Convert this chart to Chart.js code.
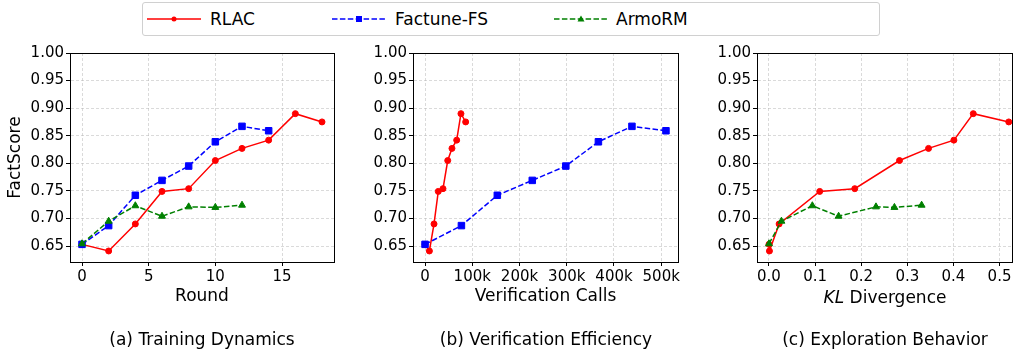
<!DOCTYPE html>
<html lang="en">
<head>
    <meta charset="UTF-8">
    <title>FactScore panels</title>
    <script src="https://cdn.jsdelivr.net/npm/chart.js"></script>
    <style>
        body {
            margin: 0;
            width: 1013px;
            height: 354px;
            overflow: hidden;
            background: #fff;
            font-family: "DejaVu Sans", sans-serif;
            position: relative;
        }
        .panel {
            position: absolute;
            top: 0;
            height: 354px;
        }
        .legend {
            position: absolute;
            left: 142px;
            top: 2px;
            width: 736px;
            height: 32px;
            border: 1px solid #d0d0d0;
            border-radius: 3px;
        }
        .legend .item {
            position: absolute;
            top: 0;
            height: 32px;
            line-height: 32px;
            font-size: 17px;
        }
        .legend svg {
            position: absolute;
            top: 10px;
        }
        .legend span {
            position: absolute;
            white-space: nowrap;
        }
        .label {
            position: absolute;
            font-size: 17px;
            white-space: nowrap;
            transform: translate(-50%, -50%);
        }
    </style>
</head>
<body>
    <!-- Legend -->
    <div class="legend">
        <div class="item" style="left:4px">
            <svg width="54" height="12"><line x1="0" y1="6" x2="54" y2="6" stroke="#ff0000" stroke-width="1.5"/><circle cx="27" cy="6" r="2.5" fill="#ff0000"/></svg>
            <span style="left:63px">RLAC</span>
        </div>
        <div class="item" style="left:189px">
            <svg width="54" height="12"><line x1="0" y1="6" x2="54" y2="6" stroke="#0000ff" stroke-width="1.5" stroke-dasharray="5.5 2.4"/><rect x="24" y="3" width="6" height="6" fill="#0000ff"/></svg>
            <span style="left:63px">Factune-FS</span>
        </div>
        <div class="item" style="left:411px">
            <svg width="54" height="12"><line x1="0" y1="6" x2="54" y2="6" stroke="#008000" stroke-width="1.5" stroke-dasharray="5.5 2.4"/><polygon points="27,2.5 30.5,8.5 23.5,8.5" fill="#008000"/></svg>
            <span style="left:62px">ArmoRM</span>
        </div>
    </div>

    <div class="panel" style="left:0;width:350px"><canvas id="chartRound"></canvas></div>
    <div class="panel" style="left:345px;width:350px"><canvas id="chartCalls"></canvas></div>
    <div class="panel" style="left:690px;width:340px"><canvas id="chartKL"></canvas></div>

    <div class="label" style="left:885px;top:297px"><i>KL</i> Divergence</div>
    <div class="label" style="left:202px;top:339px">(a) Training Dynamics</div>
    <div class="label" style="left:546px;top:339px">(b) Verification Efficiency</div>
    <div class="label" style="left:885px;top:339px">(c) Exploration Behavior</div>

    <script>
        // FactScore values
        const rlacScore    = [0.653, 0.641, 0.690, 0.749, 0.754, 0.805, 0.827, 0.842, 0.890, 0.875];
        const factuneScore = [0.653, 0.687, 0.742, 0.769, 0.795, 0.839, 0.867, 0.859];
        const armoScore    = [0.654, 0.695, 0.723, 0.704, 0.721, 0.720, 0.724];

        // Panel (a): training rounds
        const rlacRound    = [0, 2, 4, 6, 8, 10, 12, 14, 16, 18];
        const factuneRound = [0, 2, 4, 6, 8, 10, 12, 14];
        const armoRound    = [0, 2, 4, 6, 8, 10, 12];

        // Panel (b): verification calls
        const rlacCalls    = [0, 9200, 19000, 28000, 38000, 48000, 57000, 67000, 76000, 86000];
        const factuneCalls = [0, 77000, 153000, 227000, 298000, 367000, 438000, 510000];

        // Panel (c): KL divergence
        const rlacKL = [0.0, 0.001, 0.022, 0.110, 0.186, 0.283, 0.346, 0.401, 0.443, 0.520];
        const armoKL = [0.0, 0.027, 0.094, 0.151, 0.232, 0.272, 0.331];

        // Tick labels
        const yTicks      = [0.65, 0.70, 0.75, 0.80, 0.85, 0.90, 0.95, 1.00];
        const roundTicks  = [0, 5, 10, 15];
        const callTicks   = [0, 100000, 200000, 300000, 400000, 500000];
        const callLabels  = ['0', '100k', '200k', '300k', '400k', '500k'];
        const klTicks     = [0.0, 0.1, 0.2, 0.3, 0.4, 0.5];

        Chart.defaults.font.family = "'DejaVu Sans', sans-serif";
        Chart.defaults.font.size = 15;
        Chart.defaults.color = '#000';

        const toPoints = (xs, ys) => xs.map((x, i) => ({x: x, y: ys[i]}));

        const styles = {
            rlac:    {label: 'RLAC', borderColor: '#ff0000', backgroundColor: '#ff0000', pointStyle: 'circle', pointRadius: 3, order: 3},
            factune: {label: 'Factune-FS', borderColor: '#0000ff', backgroundColor: '#0000ff', pointStyle: 'rect', pointRadius: 4.6, borderDash: [5.5, 2.4], order: 2},
            armo:    {label: 'ArmoRM', borderColor: '#008000', backgroundColor: '#008000', pointStyle: 'triangle', pointRadius: 4, borderDash: [5.5, 2.4], order: 1}
        };

        const makeSet = (style, xs, ys) => Object.assign({
            data: toPoints(xs, ys),
            borderWidth: 1.5,
            pointBorderWidth: 1,
            pointHoverRadius: 4,
            tension: 0,
            fill: false,
            clip: false
        }, style, {pointBackgroundColor: style.backgroundColor, pointBorderColor: style.borderColor});

        // black frame on all four sides
        const boxPlugin = {
            id: 'box',
            afterDatasetsDraw(chart) {
                const {ctx, chartArea: a} = chart;
                ctx.save();
                ctx.strokeStyle = '#000';
                ctx.lineWidth = 1;
                ctx.strokeRect(Math.round(a.left) + 0.5, Math.round(a.top) + 0.5,
                    Math.round(a.right - a.left), Math.round(a.bottom - a.top));
                ctx.restore();
            }
        };

        const gridOpts = {
            color: 'rgba(176, 176, 176, 0.6)',
            lineWidth: 0.8,
            tickLength: 4,
            tickColor: '#000',
            tickWidth: 1
        };

        const createChart = (id, datasets, x, yWidth, yTitle, pad) => {
            return new Chart(document.getElementById(id), {
                type: 'line',
                data: {datasets: datasets},
                plugins: [boxPlugin],
                options: {
                    responsive: true,
                    maintainAspectRatio: false,
                    animation: false,
                    layout: {padding: pad},
                    plugins: {legend: {display: false}, tooltip: {enabled: false}},
                    scales: {
                        x: {
                            type: 'linear',
                            min: x.min,
                            max: x.max,
                            grid: gridOpts,
                            border: {color: '#000', dash: [3, 2]},
                            afterBuildTicks: s => { s.ticks = x.ticks.map(v => ({value: v})); },
                            afterFit: s => { s.height = 45; },
                            ticks: {
                                padding: 2,
                                maxRotation: 0,
                                autoSkip: false,
                                callback: x.format
                            },
                            title: {
                                display: !!x.title,
                                text: x.title,
                                font: {size: 17},
                                padding: {top: 0, bottom: 0}
                            }
                        },
                        y: {
                            min: 0.621,
                            max: 1.0,
                            grid: gridOpts,
                            border: {color: '#000', dash: [3, 2]},
                            afterBuildTicks: s => { s.ticks = yTicks.map(v => ({value: v})); },
                            afterFit: s => { s.width = yWidth; },
                            ticks: {
                                padding: 2,
                                autoSkip: false,
                                callback: v => v.toFixed(2)
                            },
                            title: {
                                display: !!yTitle,
                                text: yTitle,
                                font: {size: 17},
                                padding: {top: 5, bottom: 0}
                            }
                        }
                    }
                }
            });
        };

        createChart('chartRound', [
            makeSet(styles.rlac, rlacRound, rlacScore),
            makeSet(styles.factune, factuneRound, factuneScore),
            makeSet(styles.armo, armoRound, armoScore)
        ], {
            min: -0.9, max: 18.9, ticks: roundTicks, title: 'Round',
            format: v => String(v)
        }, 70, 'FactScore', {left: 0, top: 53, right: 16, bottom: 47});

        createChart('chartCalls', [
            makeSet(styles.rlac, rlacCalls, rlacScore),
            makeSet(styles.factune, factuneCalls, factuneScore)
        ], {
            min: -25500, max: 535500, ticks: callTicks, title: 'Verification Calls',
            format: v => callLabels[callTicks.indexOf(v)]
        }, 68, '', {left: 0, top: 53, right: 17, bottom: 47});

        createChart('chartKL', [
            makeSet(styles.rlac, rlacKL, rlacScore),
            makeSet(styles.armo, armoKL, armoScore)
        ], {
            min: -0.026, max: 0.527, ticks: klTicks, title: '',
            format: v => v.toFixed(1)
        }, 67, '', {left: 0, top: 53, right: 18, bottom: 47});
    </script>
</body>
</html>
